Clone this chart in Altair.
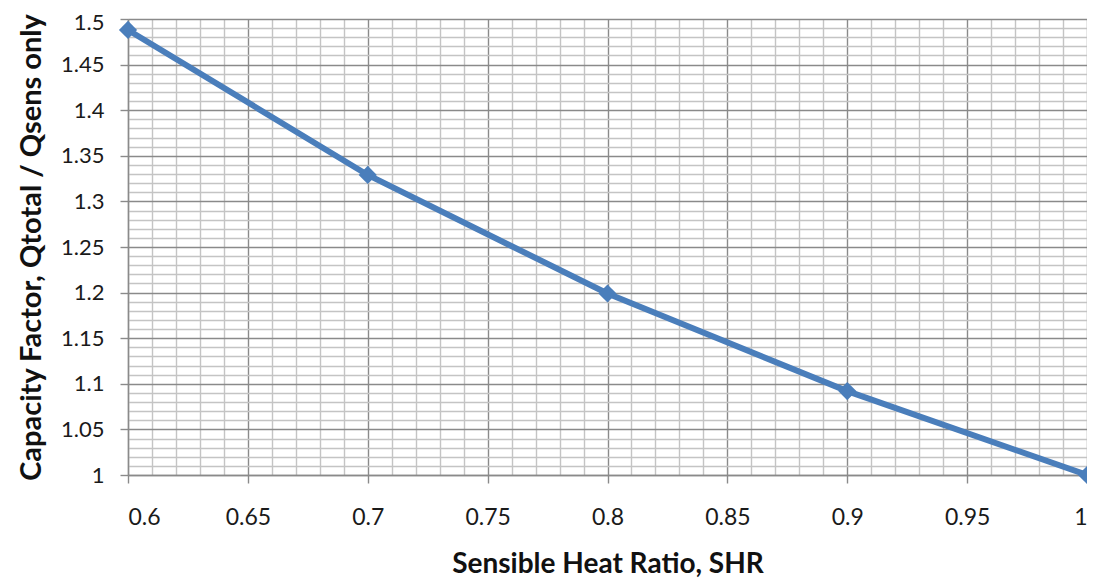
import altair as alt
import pandas as pd

shr = [0.6, 0.7, 0.8, 0.9, 1.0]
capacity = [1.488, 1.329, 1.199, 1.092, 1.0]

x_grid = [round(0.6 + 0.01 * i, 2) for i in range(41)]
y_grid = [round(1.0 + 0.01 * i, 2) for i in range(51)]

df = pd.DataFrame({"shr": shr, "cap": capacity})

major_test = "abs(datum.value*20 - round(datum.value*20)) < 0.001"
FONT = "Lato"
BLUE = "#4a7ebb"
MAJOR = "#8a8a8a"
MINOR = "#c4c4c4"


def make_axis(title, values, label_pad, label_size, title_pad, title_size, **extra):
    return alt.Axis(
        values=values,
        title=title,
        labelExpr=f"{major_test} ? format(datum.value, '.2~f') : ''",
        gridColor={"condition": {"test": major_test, "value": MAJOR}, "value": MINOR},
        gridWidth=1.4,
        tickOpacity={"condition": {"test": major_test, "value": 1}, "value": 0},
        tickColor=MAJOR,
        tickSize=8,
        tickWidth=1.4,
        domainColor=MAJOR,
        domainWidth=1.4,
        labelPadding=label_pad,
        labelFontSize=label_size,
        labelFont=FONT,
        labelColor="#1a1a1a",
        titleFont=FONT,
        titleFontSize=title_size,
        titleFontWeight="bold",
        titleColor="#111111",
        titlePadding=title_pad,
        **extra,
    )


x_axis = make_axis("Sensible Heat Ratio, SHR", x_grid, 23, 23, 21, 28)
y_axis = make_axis(
    "Capacity Factor, Qtotal / Qsens only", y_grid, 16, 22, 14, 29,
    labelOffset={"condition": {"test": "datum.value > 1.495", "value": 3}, "value": 0},
)

x_enc = alt.X("shr:Q", scale=alt.Scale(domain=[0.6, 1.0], nice=False, zero=False), axis=x_axis)
y_enc = alt.Y("cap:Q", scale=alt.Scale(domain=[1.0, 1.5], nice=False, zero=False), axis=y_axis)

base = alt.Chart(df).encode(x=x_enc, y=y_enc)
line = base.mark_line(color=BLUE, strokeWidth=6)
pts = base.mark_point(shape="diamond", filled=True, color=BLUE, size=330, opacity=1)

chart = (
    (line + pts)
    .properties(width=959, height=456, padding={"left": 120, "top": 11, "right": 0, "bottom": 105})
    .configure(autosize=alt.AutoSizeParams(type="none"))
    .configure_view(stroke=None)
)

chart.save("out.html", embed_options={"renderer": "svg", "actions": False})
